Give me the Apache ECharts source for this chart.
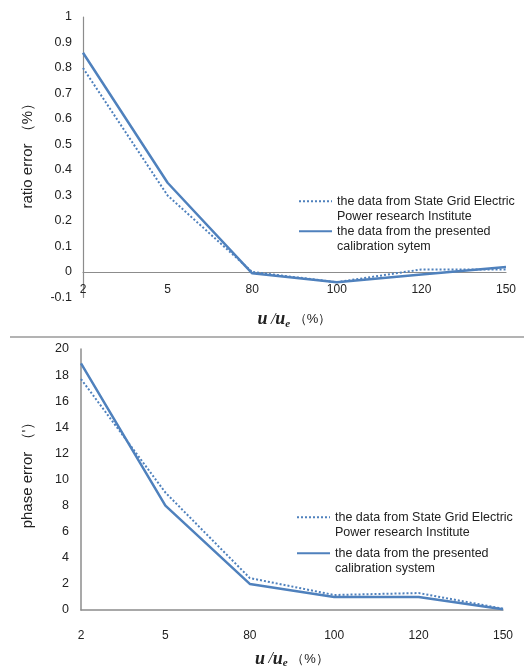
<!DOCTYPE html>
<html>
<head>
<meta charset="utf-8">
<script src="https://cdn.jsdelivr.net/npm/echarts@6/dist/echarts.min.js"></script>
<style>
html,body{margin:0;padding:0;background:#fff;}
#c{width:524px;height:670px;}
</style>
</head>
<body>
<div id="c"></div>
<script>
var categories = ['2', '5', '80', '100', '120', '150'];
var ratioStateGrid = [0.80, 0.30, 0.00, -0.04, 0.01, 0.01];
var ratioPresented = [0.86, 0.35, -0.005, -0.04, -0.01, 0.02];
var phaseStateGrid = [17.7, 9.0, 2.45, 1.15, 1.3, 0.1];
var phasePresented = [18.9, 8.0, 2.0, 1.0, 1.0, 0.05];

var nameStateGrid = 'the data from State Grid Electric\nPower research Institute';
var nameTopPresented = 'the data from the presented\ncalibration sytem';
var nameBottomPresented = 'the data from the presented\ncalibration system';

var FONT = '"Liberation Sans", Arial, sans-serif';
var BLUE = '#4F81BD';
var AXIS = '#8c8c8c';

function xAxisCfg(gi, labelMargin, nameGap, lineW) {
  return {
    type: 'category', gridIndex: gi, data: categories, boundaryGap: false,
    axisLine: {show: true, onZero: true, lineStyle: {color: AXIS, width: lineW}},
    axisTick: {show: false},
    axisLabel: {color: '#222', fontSize: 12, fontFamily: FONT, margin: labelMargin},
    name: '{u|u} {s|/}{u|u}{e|e}{p| （%）}',
    nameLocation: 'middle', nameGap: nameGap,
    nameTextStyle: {
      rich: {
        u: {fontFamily: '"Liberation Serif", serif', fontStyle: 'italic', fontWeight: 'bold', fontSize: 18, color: '#222'},
        s: {fontFamily: '"Liberation Serif", serif', fontStyle: 'italic', fontSize: 16, color: '#222'},
        e: {fontFamily: '"Liberation Serif", serif', fontStyle: 'italic', fontWeight: 'bold', fontSize: 11, color: '#222', verticalAlign: 'bottom', padding: [9, 0, 0, 0]},
        p: {fontFamily: FONT, fontSize: 13, color: '#222'}
      }
    }
  };
}

var legendText = {fontSize: 12.5, fontFamily: FONT, color: '#222', lineHeight: 15.5};
function legendFmt(n) { return ' \n' + n; }

var option = {
  animation: false,
  backgroundColor: '#fff',
  grid: [
    {left: 83, top: 17, right: 18, bottom: 372.5},
    {left: 81, top: 349, right: 21, bottom: 53}
  ],
  xAxis: [
    xAxisCfg(0, -14, 12, 1.2),
    xAxisCfg(1, 20, 39, 1.5)
  ],
  yAxis: [
    {
      type: 'value', gridIndex: 0, min: -0.1, max: 1, interval: 0.1,
      axisLine: {show: true, lineStyle: {color: AXIS, width: 1.2}},
      axisTick: {show: false}, splitLine: {show: false},
      axisLabel: {color: '#222', fontSize: 12.5, fontFamily: FONT, margin: 11,
        formatter: function (v) { return String(Math.round(v * 10) / 10); }},
      name: 'ratio error （%）', nameLocation: 'middle', nameGap: 48,
      nameTextStyle: {fontSize: 15, fontFamily: FONT, color: '#222', padding: [0, 0, 0, 10]}
    },
    {
      type: 'value', gridIndex: 1, min: 0, max: 20, interval: 2,
      axisLine: {show: true, lineStyle: {color: AXIS, width: 1.5}},
      axisTick: {show: false}, splitLine: {show: false},
      axisLabel: {color: '#222', fontSize: 12.5, fontFamily: FONT, margin: 12},
      name: "phase error （'）", nameLocation: 'middle', nameGap: 46,
      nameTextStyle: {fontSize: 15, fontFamily: FONT, color: '#222', padding: [0, 0, 0, 16]}
    }
  ],
  legend: [
    {
      orient: 'vertical', left: 293, top: 173, itemWidth: 33, itemHeight: 10, itemGap: -16.5,
      data: [nameStateGrid, nameTopPresented], textStyle: legendText, formatter: legendFmt,
      selectedMode: false, itemStyle: {color: 'rgba(0,0,0,0)', borderWidth: 0}
    },
    {
      orient: 'vertical', left: 291, top: 489, itemWidth: 33, itemHeight: 10, itemGap: -10.5,
      data: [nameStateGrid, nameBottomPresented], textStyle: legendText, formatter: legendFmt,
      selectedMode: false, itemStyle: {color: 'rgba(0,0,0,0)', borderWidth: 0}
    }
  ],
  series: [
    {name: nameStateGrid, type: 'line', xAxisIndex: 0, yAxisIndex: 0, data: ratioStateGrid,
      symbol: 'none', lineStyle: {color: BLUE, width: 2, type: [2, 2]}, itemStyle: {color: BLUE}},
    {name: nameTopPresented, type: 'line', xAxisIndex: 0, yAxisIndex: 0, data: ratioPresented,
      symbol: 'none', lineStyle: {color: BLUE, width: 2.5}, itemStyle: {color: BLUE}},
    {name: nameStateGrid, type: 'line', xAxisIndex: 1, yAxisIndex: 1, data: phaseStateGrid,
      symbol: 'none', lineStyle: {color: BLUE, width: 2, type: [2, 2]}, itemStyle: {color: BLUE}},
    {name: nameBottomPresented, type: 'line', xAxisIndex: 1, yAxisIndex: 1, data: phasePresented,
      symbol: 'none', lineStyle: {color: BLUE, width: 2.5}, itemStyle: {color: BLUE}}
  ],
  graphic: [
    {type: 'line', shape: {x1: 10, y1: 337, x2: 524, y2: 337}, style: {stroke: '#9a9a9a', lineWidth: 1.5}}
  ]
};

var chart = echarts.init(document.getElementById('c'), null, {renderer: 'canvas'});
chart.setOption(option);
</script>
</body>
</html>
